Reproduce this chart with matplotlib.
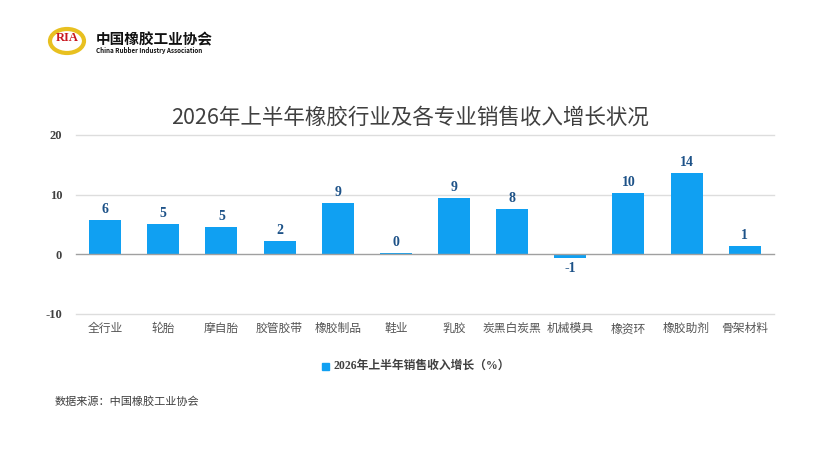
import matplotlib
matplotlib.use("Agg")
import matplotlib.pyplot as plt
from matplotlib.patches import Ellipse
import numpy as np

plt.rcParams['font.family'] = ['Noto Sans CJK SC', 'DejaVu Sans']

categories = ["全行业", "轮胎", "摩自胎", "胶管胶带", "橡胶制品", "鞋业",
              "乳胶", "炭黑白炭黑", "机械模具", "橡资环", "橡胶助剂", "骨架材料"]
growth = [5.7, 5.0, 4.6, 2.2, 8.6, 0.2, 9.4, 7.6, -0.6, 10.2, 13.6, 1.4]
value_labels = ["6", "5", "5", "2", "9", "0", "9", "8", "-1", "10", "14", "1"]
yticks = [-10, 0, 10, 20]

title = "2026年上半年橡胶行业及各专业销售收入增长状况"
legend_label = "2026年上半年销售收入增长（%）"
source = "数据来源：中国橡胶工业协会"

bar_color = "#10a0f2"
label_color = "#1d5288"

fig = plt.figure(figsize=(8.2, 4.61), dpi=100)

ax = fig.add_axes([0.0927, 0.3189, 0.851, 0.3883])
x = np.arange(len(categories))

for t in yticks:
    ax.axhline(t, color="#a0a0a0" if t == 0 else "#dddddd", linewidth=1,
               zorder=4 if t == 0 else 1, clip_on=False)

bars = ax.bar(x, growth, width=0.55, color=bar_color, zorder=3)

ax.set_xlim(-0.5, len(categories) - 0.5)
ax.set_ylim(-10, 20)
ax.set_yticks(yticks)
ax.set_yticklabels([str(t) for t in yticks], family="Liberation Serif",
                   fontweight="bold", fontsize=9, color="#404040")
ax.set_xticks(x)
ax.set_xticklabels(categories, fontsize=8.5, color="#555555")
ax.tick_params(axis="both", length=0)
ax.tick_params(axis="x", pad=6)
ax.tick_params(axis="y", pad=10)
for s in ax.spines.values():
    s.set_visible(False)
ax.patch.set_alpha(0)

for b, v, lab in zip(bars, growth, value_labels):
    cx = b.get_x() + b.get_width() / 2
    if v >= 0:
        ax.annotate(lab, (cx, v), xytext=(0, 3), textcoords="offset points",
                    ha="center", va="bottom", family="Liberation Serif",
                    fontweight="bold", fontsize=10, color=label_color)
    else:
        ax.annotate(lab, (cx, v), xytext=(0, -3), textcoords="offset points",
                    ha="center", va="top", family="Liberation Serif",
                    fontweight="bold", fontsize=10, color=label_color)

fig.text(0.5, 1 - 118 / 461, title, ha="center", va="center",
         fontsize=15.5, color="#404040")

# legend
fig.patches.append(plt.Rectangle((322 / 820, 1 - 370 / 461), 7 / 820, 7 / 461,
                                 transform=fig.transFigure, color=bar_color))
fig.text(333 / 820, 1 - 366 / 461, legend_label, ha="left", va="center",
         fontsize=8.5, color="#404040", fontweight="bold",
         family=["Liberation Serif", "Noto Sans CJK SC"])

fig.text(55 / 820, 1 - 401 / 461, source, ha="left", va="center",
         fontsize=8, color="#404040")

# logo
fig.patches.append(Ellipse((67 / 820, 1 - 41 / 461), 34 / 820, 24 / 461,
                           transform=fig.transFigure, facecolor="none",
                           edgecolor="#e8c020", linewidth=3))
fig.text(67 / 820, 1 - 38 / 461, "RIA", ha="center", va="center", fontsize=9,
         color="#c8161d", fontweight="bold", family="Liberation Serif")
fig.text(96 / 820, 1 - 39 / 461, "中国橡胶工业协会", ha="left", va="center",
         fontsize=10.5, color="#111111", fontweight="bold")
fig.text(96 / 820, 1 - 51 / 461, "China Rubber Industry Association", ha="left",
         va="center", fontsize=4.5, color="#111111", fontweight="bold")

fig.savefig("out.png", dpi=100)
